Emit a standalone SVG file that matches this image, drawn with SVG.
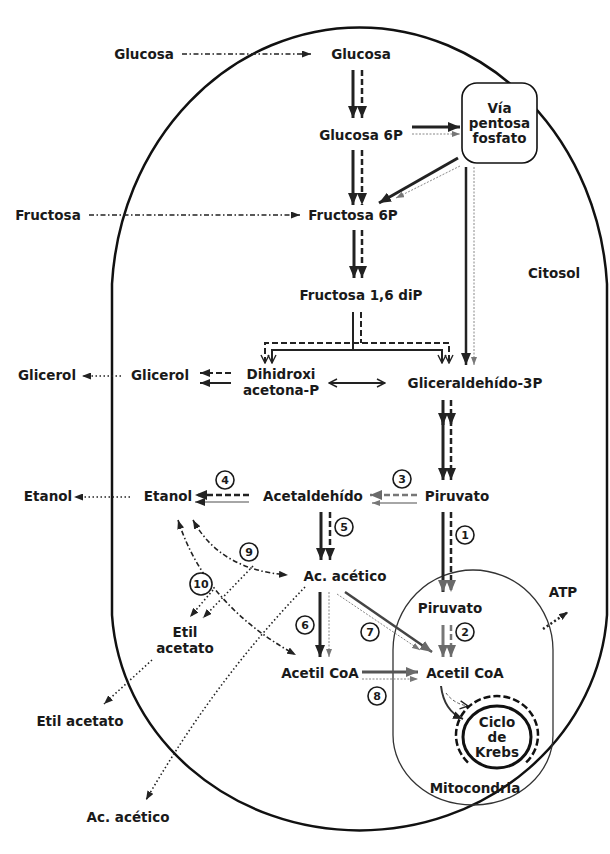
<svg xmlns="http://www.w3.org/2000/svg" width="610" height="854" viewBox="0 0 610 854">
<defs>
<style>
.t{font-family:"DejaVu Sans",Verdana,sans-serif;font-weight:bold;font-size:13.5px;fill:#1a1a1a;text-anchor:middle}
.n{font-family:"DejaVu Sans",Verdana,sans-serif;font-weight:bold;font-size:11px;fill:#1a1a1a;text-anchor:middle}
.c{fill:#fff;stroke:#1a1a1a;stroke-width:1.6}
.s{fill:none;stroke:#222;stroke-width:3}
.d{fill:none;stroke:#222;stroke-width:2.5;stroke-dasharray:6 3}
.fd{fill:none;stroke:#888;stroke-width:1;stroke-dasharray:2 1.5}
.dt{fill:none;stroke:#222;stroke-width:1.6;stroke-dasharray:1.5 2.5}
.dd{fill:none;stroke:#222;stroke-width:1.6;stroke-dasharray:5 2.5 1.5 2.5}
.g{stroke:#777}
</style>
<marker id="hd" viewBox="0 0 12 10" refX="12" refY="5" markerWidth="12" markerHeight="10" orient="auto" markerUnits="userSpaceOnUse"><path d="M0,0 L12,5 L0,10 z" fill="#222"/></marker>
<marker id="hg" viewBox="0 0 12 10" refX="12" refY="5" markerWidth="12" markerHeight="10" orient="auto" markerUnits="userSpaceOnUse"><path d="M0,0 L12,5 L0,10 z" fill="#6a6a6a"/></marker>
<marker id="hm" viewBox="0 0 10 8" refX="10" refY="4" markerWidth="10" markerHeight="8" orient="auto" markerUnits="userSpaceOnUse"><path d="M0,0 L10,4 L0,8 z" fill="#222"/></marker>
<marker id="hs" viewBox="0 0 9 7" refX="9" refY="3.5" markerWidth="9" markerHeight="7" orient="auto-start-reverse" markerUnits="userSpaceOnUse"><path d="M0,0 L9,3.5 L0,7 z" fill="#222"/></marker>
<marker id="hgs" viewBox="0 0 8 6" refX="8" refY="3" markerWidth="8" markerHeight="6" orient="auto" markerUnits="userSpaceOnUse"><path d="M0,0 L8,3 L0,6 z" fill="#777"/></marker>
<marker id="ho" viewBox="-1 -1 10 10" refX="8" refY="4" markerWidth="10" markerHeight="10" orient="auto-start-reverse" markerUnits="userSpaceOnUse"><path d="M0,0 L8,4 L0,8" fill="none" stroke="#222" stroke-width="1.4"/></marker>
</defs>
<rect width="610" height="854" fill="#fff"/>

<g id="cell">
<path d="M112 284 A248 274 0 0 1 607 284 L607 615 A248 230 0 0 1 112 615 Z" fill="none" stroke="#111" stroke-width="2.5"/>
</g>
<g id="mitochondrion">
<path d="M393 650 A80 80 0 0 1 553 650 L553 735 A80 70 0 0 1 393 735 Z" fill="none" stroke="#333" stroke-width="1.3"/>
</g>

<g id="connectors">
<path class="dd" d="M182 54 H311" marker-end="url(#hs)"/>
<path class="dd" d="M89 215 H300" marker-end="url(#hs)"/>
<path class="s" d="M353 70 V118" marker-end="url(#hd)"/>
<path class="d" d="M362 70 V118" marker-end="url(#hd)"/>
<path class="s" d="M353 150 V205" marker-end="url(#hd)"/>
<path class="d" d="M362 150 V205" marker-end="url(#hd)"/>
<path class="s" d="M354 230 V278" marker-end="url(#hd)"/>
<path class="d" d="M362 230 V278" marker-end="url(#hd)"/>
<path class="s" d="M412 127 H460" marker-end="url(#hd)"/>
<path class="fd" d="M412 134 H460" marker-end="url(#hgs)"/>
<path class="s" d="M458 158 L379 203" marker-end="url(#hd)"/>
<path class="fd" d="M460 166 L396 198" marker-end="url(#hgs)"/>
<path class="s" style="stroke-width:2.5" d="M466 167 V365" marker-end="url(#hd)"/>
<path class="fd" d="M474 167 V365" marker-end="url(#hgs)"/>
<path class="s" style="stroke-width:2" d="M353 312 V350"/>
<path class="s" style="stroke-width:2" d="M272 363 V350 H442 V363" marker-start="url(#ho)" marker-end="url(#ho)"/>
<path class="d" style="stroke-width:2" d="M361 312 V343"/>
<path class="d" style="stroke-width:2" d="M265 363 V343 H449 V363" marker-start="url(#ho)" marker-end="url(#ho)"/>
<path class="d" style="stroke-width:2" d="M231 373 H200" marker-end="url(#hm)"/>
<path class="s" style="stroke-width:2" d="M231 383 H200" marker-end="url(#hm)"/>
<path class="dt" d="M121 376 H82" marker-end="url(#hs)"/>
<path fill="none" stroke="#222" stroke-width="1.8" d="M329 383 H385" marker-start="url(#ho)" marker-end="url(#ho)"/>
<path class="s" d="M443 400 V425" marker-end="url(#hd)"/>
<path class="s" d="M443 420 V480" marker-end="url(#hd)"/>
<path class="d" d="M451 400 V425" marker-end="url(#hd)"/>
<path class="d" d="M451 420 V480" marker-end="url(#hd)"/>
<path class="d g" d="M417 495 H370" marker-end="url(#hg)"/>
<path fill="none" stroke="#888" stroke-width="1.5" d="M417 503 H372" marker-end="url(#hgs)"/>
<path class="d" d="M249 495 H195" marker-end="url(#hd)"/>
<path fill="none" stroke="#888" stroke-width="1.5" d="M249 502 H195" marker-end="url(#hm)"/>
<path class="dt" d="M130 497 H74" marker-end="url(#hs)"/>
<path class="s" d="M321 512 V560" marker-end="url(#hd)"/>
<path class="d" d="M330 512 V560" marker-end="url(#hd)"/>
<path class="s" d="M443 512 V592" marker-end="url(#hg)"/>
<path class="d" d="M451 512 V592" marker-end="url(#hg)"/>
<path class="s g" d="M443 625 V657" marker-end="url(#hg)"/>
<path class="d g" d="M451 625 V657" marker-end="url(#hg)"/>
<path class="s" d="M320 592 V657" marker-end="url(#hd)"/>
<path class="fd" d="M329 592 V657" marker-end="url(#hgs)"/>
<path class="s" style="stroke:#444;stroke-width:2.5" d="M345 592 L432 652" marker-end="url(#hg)"/>
<path class="fd" d="M337 594 L420 650" marker-end="url(#hgs)"/>
<path class="s" style="stroke:#555" d="M362 672 H418" marker-end="url(#hg)"/>
<path class="fd" d="M362 679 H418" marker-end="url(#hgs)"/>
<path fill="none" stroke="#333" stroke-width="2" d="M441 686 Q444 711 463 719" marker-end="url(#hm)"/>
<path fill="none" stroke="#555" stroke-width="1" stroke-dasharray="3 2" d="M446 693 Q454 704 468 706" marker-end="url(#ho)"/>
<path class="dd" d="M193 520 Q220 570 288 575" marker-start="url(#hs)" marker-end="url(#hs)"/>
<path class="dd" d="M178 520 Q205 605 296 655" marker-start="url(#hs)" marker-end="url(#hs)"/>
<path class="dt" d="M253 566 L203 618" marker-end="url(#hs)"/>
<path class="dt" d="M213 590 L190 617" marker-end="url(#hs)"/>
<path class="dt" d="M152 660 L104 704" marker-end="url(#hs)"/>
<path class="dt" d="M305 587 Q215 680 146 800" marker-end="url(#hs)"/>
<path fill="none" stroke="#222" stroke-width="2.5" stroke-dasharray="2 2.5" d="M543 629 L568 612" marker-end="url(#hs)"/>
</g>

<g id="krebs">
<path d="M468 762.6 A41 39 0 1 1 526 762.6" fill="none" stroke="#111" stroke-width="2.5" stroke-dasharray="7 3"/>
<ellipse cx="497" cy="737" rx="34" ry="31" fill="#fff" stroke="#111" stroke-width="3"/>
<text class="t" x="497" y="727">Ciclo</text>
<text class="t" x="497" y="742">de</text>
<text class="t" x="497" y="757">Krebs</text>
</g>

<g id="via-pentosa">
<rect x="462" y="83" width="75" height="80" rx="15" fill="#fff" stroke="#111" stroke-width="1.6"/>
<text class="t" x="499.5" y="113">Vía</text>
<text class="t" x="499.5" y="128">pentosa</text>
<text class="t" x="499.5" y="143">fosfato</text>
</g>

<g id="glucosa-ext"><text class="t" x="144" y="59">Glucosa</text></g>
<g id="glucosa"><text class="t" x="361" y="59">Glucosa</text></g>
<g id="glucosa6p"><text class="t" x="361" y="140">Glucosa 6P</text></g>
<g id="fructosa-ext"><text class="t" x="48" y="220">Fructosa</text></g>
<g id="fructosa6p"><text class="t" x="353" y="220">Fructosa 6P</text></g>
<g id="fructosa16dip"><text class="t" x="361" y="300">Fructosa 1,6 diP</text></g>
<g id="citosol"><text class="t" x="554" y="278">Citosol</text></g>
<g id="glicerol-ext"><text class="t" x="47" y="380">Glicerol</text></g>
<g id="glicerol"><text class="t" x="160" y="380">Glicerol</text></g>
<g id="dihidroxiacetona"><text class="t" x="281" y="379">Dihidroxi</text><text class="t" x="281" y="395">acetona-P</text></g>
<g id="gliceraldehido"><text class="t" x="475" y="388">Gliceraldehído-3P</text></g>
<g id="etanol-ext"><text class="t" x="48" y="501">Etanol</text></g>
<g id="etanol"><text class="t" x="168" y="501">Etanol</text></g>
<g id="acetaldehido"><text class="t" x="313" y="501">Acetaldehído</text></g>
<g id="piruvato"><text class="t" x="457" y="501">Piruvato</text></g>
<g id="acacetico"><text class="t" x="345" y="581">Ac. acético</text></g>
<g id="etilacetato"><text class="t" x="185" y="637">Etil</text><text class="t" x="185" y="653">acetato</text></g>
<g id="acetilcoa"><text class="t" x="320" y="678">Acetil CoA</text></g>
<g id="piruvato-mito"><text class="t" x="450" y="613">Piruvato</text></g>
<g id="acetilcoa-mito"><text class="t" x="465" y="678">Acetil CoA</text></g>
<g id="atp"><text class="t" x="563" y="597">ATP</text></g>
<g id="mitocondria-label"><text class="t" x="475" y="793">Mitocondria</text></g>
<g id="etilacetato-ext"><text class="t" x="80" y="726">Etil acetato</text></g>
<g id="acacetico-ext"><text class="t" x="128" y="822">Ac. acético</text></g>

<g id="step-1"><circle class="c" cx="465" cy="535" r="9"/><text class="n" x="465" y="539">1</text></g>
<g id="step-2"><circle class="c" cx="465" cy="632" r="9"/><text class="n" x="465" y="636">2</text></g>
<g id="step-3"><circle class="c" cx="402" cy="479" r="9"/><text class="n" x="402" y="483">3</text></g>
<g id="step-4"><circle class="c" cx="225" cy="480" r="9"/><text class="n" x="225" y="484">4</text></g>
<g id="step-5"><circle class="c" cx="344" cy="527" r="9"/><text class="n" x="344" y="531">5</text></g>
<g id="step-6"><circle class="c" cx="305" cy="625" r="9"/><text class="n" x="305" y="629">6</text></g>
<g id="step-7"><circle class="c" cx="370" cy="632" r="9"/><text class="n" x="370" y="636">7</text></g>
<g id="step-8"><circle class="c" cx="377" cy="696" r="9"/><text class="n" x="377" y="700">8</text></g>
<g id="step-9"><circle class="c" cx="249" cy="552" r="9"/><text class="n" x="249" y="556">9</text></g>
<g id="step-10"><circle class="c" cx="201" cy="584" r="11"/><text class="n" x="201" y="588">10</text></g>
</svg>
